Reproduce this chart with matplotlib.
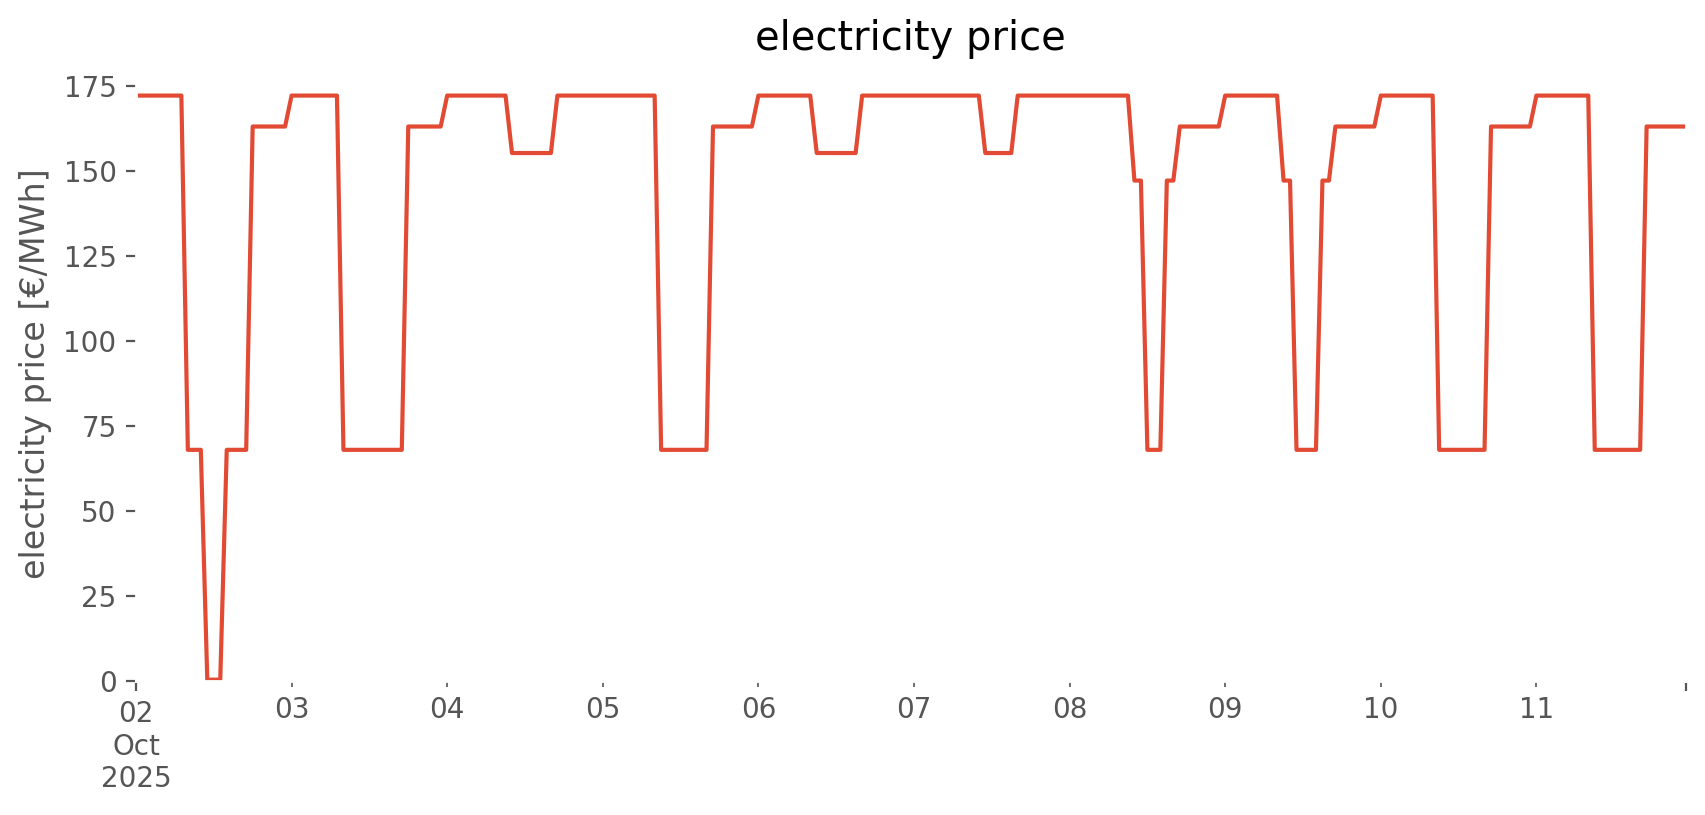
# electricity price over ~10 days, hourly values

import numpy as np
import pandas as pd
import matplotlib
matplotlib.use('Agg')
import matplotlib.pyplot as plt
import matplotlib.dates as mdates
from matplotlib.ticker import FixedLocator, FixedFormatter

# hourly prices in €/MWh, one list per day (00:00 .. 23:00)
day_02 = [172.2, 172.2, 172.2, 172.2, 172.2, 172.2, 172.2, 172.2,
          68.0, 68.0, 68.0, 0.4, 0.4, 0.4, 68.0, 68.0, 68.0, 68.0,
          163.1, 163.1, 163.1, 163.1, 163.1, 163.1]
day_03 = [172.2, 172.2, 172.2, 172.2, 172.2, 172.2, 172.2, 172.2,
          68.0, 68.0, 68.0, 68.0, 68.0, 68.0, 68.0, 68.0, 68.0, 68.0,
          163.1, 163.1, 163.1, 163.1, 163.1, 163.1]
day_04 = [172.2, 172.2, 172.2, 172.2, 172.2, 172.2, 172.2, 172.2, 172.2, 172.2,
          155.3, 155.3, 155.3, 155.3, 155.3, 155.3, 155.3,
          172.2, 172.2, 172.2, 172.2, 172.2, 172.2, 172.2]
day_05 = [172.2, 172.2, 172.2, 172.2, 172.2, 172.2, 172.2, 172.2, 172.2,
          68.0, 68.0, 68.0, 68.0, 68.0, 68.0, 68.0, 68.0,
          163.1, 163.1, 163.1, 163.1, 163.1, 163.1, 163.1]
day_06 = [172.2, 172.2, 172.2, 172.2, 172.2, 172.2, 172.2, 172.2, 172.2,
          155.3, 155.3, 155.3, 155.3, 155.3, 155.3, 155.3,
          172.2, 172.2, 172.2, 172.2, 172.2, 172.2, 172.2, 172.2]
day_07 = [172.2, 172.2, 172.2, 172.2, 172.2, 172.2, 172.2, 172.2, 172.2, 172.2, 172.2,
          155.3, 155.3, 155.3, 155.3, 155.3,
          172.2, 172.2, 172.2, 172.2, 172.2, 172.2, 172.2, 172.2]
day_08 = [172.2, 172.2, 172.2, 172.2, 172.2, 172.2, 172.2, 172.2, 172.2, 172.2,
          147.2, 147.2, 68.0, 68.0, 68.0, 147.2, 147.2,
          163.1, 163.1, 163.1, 163.1, 163.1, 163.1, 163.1]
day_09 = [172.2, 172.2, 172.2, 172.2, 172.2, 172.2, 172.2, 172.2, 172.2,
          147.2, 147.2, 68.0, 68.0, 68.0, 68.0, 147.2, 147.2,
          163.1, 163.1, 163.1, 163.1, 163.1, 163.1, 163.1]
day_10 = [172.2, 172.2, 172.2, 172.2, 172.2, 172.2, 172.2, 172.2, 172.2,
          68.0, 68.0, 68.0, 68.0, 68.0, 68.0, 68.0, 68.0,
          163.1, 163.1, 163.1, 163.1, 163.1, 163.1, 163.1]
day_11 = [172.2, 172.2, 172.2, 172.2, 172.2, 172.2, 172.2, 172.2, 172.2,
          68.0, 68.0, 68.0, 68.0, 68.0, 68.0, 68.0, 68.0,
          163.1, 163.1, 163.1, 163.1, 163.1, 163.1, 163.1]

day_labels = ['03', '04', '05', '06', '07', '08', '09', '10', '11']
first_label = '02\nOct\n2025'


def main():
    plt.style.use('ggplot')
    plt.rcParams['axes.facecolor'] = 'white'
    plt.rcParams['axes.grid'] = False

    days = [day_02, day_03, day_04, day_05, day_06,
            day_07, day_08, day_09, day_10, day_11]
    prices = np.concatenate(days)
    times = pd.date_range('2025-10-02 00:00', periods=len(prices), freq='h')

    fig = plt.figure(figsize=(8.53, 4.075), dpi=200)
    ax = fig.add_axes([0.0797, 0.1644, 0.9083, 0.7542])
    ax.plot(times, prices)

    ax.set_xlim(times[0], times[-1])
    ax.set_ylim(0, 180.8)
    ax.set_yticks(np.arange(0, 176, 25))

    # pandas-like date ticks: month label at start, days as minor ticks
    major = [mdates.date2num(times[0]), mdates.date2num(times[-1])]
    minor = [mdates.date2num(pd.Timestamp('2025-10-%s' % d)) for d in day_labels]
    ax.xaxis.set_major_locator(FixedLocator(major))
    ax.xaxis.set_major_formatter(FixedFormatter([first_label, '']))
    ax.xaxis.set_minor_locator(FixedLocator(minor))
    ax.xaxis.set_minor_formatter(FixedFormatter(day_labels))

    ax.set_title('electricity price')
    ax.set_ylabel('electricity price [€/MWh]')

    fig.savefig('out.png', dpi=200)


if __name__ == '__main__':
    main()
